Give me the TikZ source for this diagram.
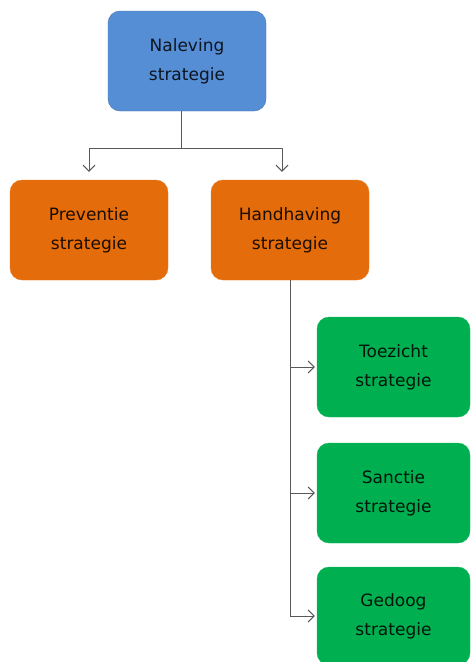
\documentclass[tikz,border=0pt]{standalone}
\usepackage{fontspec}
\setmainfont{DejaVu Sans}
\usetikzlibrary{arrows.meta}
\definecolor{nalblue}{RGB}{86,142,214}
\definecolor{hhorange}{RGB}{228,108,10}
\definecolor{stgreen}{RGB}{0,176,80}
\tikzset{
	box/.style={rounded corners=12pt, minimum width=158pt, minimum height=100pt, align=center, inner sep=2pt, font=\fontsize{17}{29}\selectfont},
	nalbox/.style={box, fill=nalblue, draw=nalblue!80!black, text=nalblue!15!black},
	hhbox/.style={box, fill=hhorange, draw=hhorange!90!white, text=hhorange!12!black},
	stbox/.style={box, fill=stgreen, draw=stgreen!90!white, text=stgreen!12!black, minimum width=153pt},
	link/.style={draw=black!65, line width=1pt},
}
\begin{document}
\begin{tikzpicture}[x=1pt, y=-1pt, >={Straight Barb[length=6pt, width=12pt]}, line join=round]
		\useasboundingbox (0,0) rectangle (472,662);
		\node[nalbox] (nal) at (187,61) {Naleving\\strategie};
		\node[hhbox] (prev) at (89,230) {Preventie\\strategie};
		\node[hhbox] (hand) at (290,230) {Handhaving\\strategie};
		\node[stbox] (toez) at (393.5,367) {Toezicht\\strategie};
		\node[stbox] (sanc) at (393.5,493) {Sanctie\\strategie};
		\node[stbox, minimum height=98pt] (gedo) at (393.5,616) {Gedoog\\strategie};
		% top level
		\coordinate (split) at ([xshift=-6pt]nal.south |- 0,148);
		\draw[link] ([xshift=-6pt]nal.south) -- (split);
		\draw[link, ->, shorten >=8pt] (split) -| (prev.north);
		\draw[link, ->, shorten >=8pt] (split) -| ([xshift=-8pt]hand.north);
		% handhaving
		\draw[link] (hand.south) -- (hand.south |- gedo.west);
		\draw[link, ->, shorten >=2pt] (hand.south |- toez.west) -- (toez.west);
		\draw[link, ->, shorten >=2pt] (hand.south |- sanc.west) -- (sanc.west);
		\draw[link, ->, shorten >=2pt] (hand.south |- gedo.west) -- (gedo.west);
	\end{tikzpicture}
\end{document}
